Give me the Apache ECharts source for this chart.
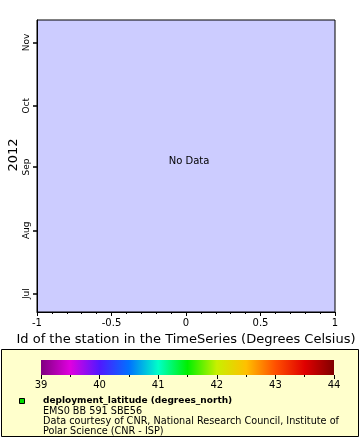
<!DOCTYPE html>
<html><head><meta charset="utf-8">
<script src="https://cdn.jsdelivr.net/npm/echarts@6/dist/echarts.min.js"></script>
<style>html,body{margin:0;padding:0;background:#fff}#c{width:360px;height:440px}</style>
</head><body><div id="c"></div>
<script>
// ---- data ----
const xRange = [-1, 1];
const xTickInterval = 0.5;
const timeRange = ['2012-06-22', '2012-11-12'];
const monthTicks = ['2012-07-01', '2012-08-01', '2012-09-01', '2012-10-01', '2012-11-01'];
const monthLabels = ['Jul', 'Aug', 'Sep', 'Oct', 'Nov'];
const yearLabel = '2012';
const xAxisTitle = 'Id of the station in the TimeSeries (Degrees Celsius)';
const seriesData = []; // no data
const noDataText = 'No Data';
const colorbarRange = [39, 44];
const colorbarStops = ['#800080', '#e000e0', '#5018ff', '#0070ff', '#00ffc8', '#00f000', '#c8f000', '#ffc000', '#ff5000', '#e00000', '#800000'];
const legendTitle = 'deployment_latitude (degrees_north)';
const legendLines = ['EMS0 BB 591 SBE56', 'Data courtesy of CNR, National Research Council, Institute of', 'Polar Science (CNR - ISP)'];

const font = 'DejaVu Sans';
const chart = echarts.init(document.getElementById('c'), null, {renderer: 'canvas'});
const toTs = s => { const p = s.split('-').map(Number); return Date.UTC(p[0], p[1] - 1, p[2]); };
const tickTs = monthTicks.map(toTs);

const gradient = new echarts.graphic.LinearGradient(0, 0, 1, 0,
  colorbarStops.map((c, i) => ({offset: i / (colorbarStops.length - 1), color: c})));

chart.setOption({
  animation: false,
  textStyle: {fontFamily: font},
  grid: [
    {left: 37, right: 25, top: 20, bottom: 128, show: true, backgroundColor: '#ccccff', borderColor: '#000', borderWidth: 1},
    {left: 41, width: 293, top: 360, height: 15, show: true, backgroundColor: gradient, borderWidth: 0}
  ],
  xAxis: [
    {type: 'value', gridIndex: 0, min: xRange[0], max: xRange[1], interval: xTickInterval,
     axisLine: {onZero: false, lineStyle: {color: '#000'}}, splitLine: {show: false},
     axisTick: {show: true, length: 4, lineStyle: {color: '#000'}},
     minorTick: {show: true, splitNumber: 5, length: 2, lineStyle: {color: '#000'}},
     axisLabel: {color: '#000', fontSize: 10, margin: 6, fontFamily: font},
     name: xAxisTitle, nameLocation: 'middle', nameGap: 19,
     nameTextStyle: {color: '#000', fontSize: 13, fontFamily: font, verticalAlign: 'top'}},
    {type: 'value', gridIndex: 1, min: colorbarRange[0], max: colorbarRange[1], interval: 1,
     axisLine: {show: false, onZero: false}, splitLine: {show: false},
     axisTick: {show: true, length: 4, lineStyle: {color: '#000'}},
     minorTick: {show: true, splitNumber: 2, length: 2, lineStyle: {color: '#000'}},
     axisLabel: {color: '#000', fontSize: 10, margin: 5, fontFamily: font}}
  ],
  yAxis: [
    {type: 'value', gridIndex: 0, min: toTs(timeRange[0]), max: toTs(timeRange[1]),
     axisLine: {show: true, onZero: false, lineStyle: {color: '#000'}}, splitLine: {show: false},
     axisTick: {show: true, length: 4, customValues: tickTs, lineStyle: {color: '#000', width: 1.5}},
     axisLabel: {color: '#000', fontSize: 9, rotate: 90, margin: 6, customValues: tickTs,
       formatter: v => { const i = tickTs.indexOf(v); return i >= 0 ? monthLabels[i] : ''; }, fontFamily: font}},
    {type: 'value', gridIndex: 1, show: false, min: 0, max: 1}
  ],
  series: [
    {type: 'scatter', xAxisIndex: 0, yAxisIndex: 0, data: seriesData, symbolSize: 5, itemStyle: {color: '#00dd00'}}
  ],
  graphic: [
    {type: 'text', x: 189, y: 161, style: {text: noDataText, font: '10px "DejaVu Sans"', fill: '#000', align: 'center', verticalAlign: 'middle'}},
    {type: 'text', x: 14, y: 155, rotation: Math.PI / 2, style: {text: yearLabel, font: '13px "DejaVu Sans"', fill: '#000', align: 'center', verticalAlign: 'middle'}},
    {type: 'rect', z: -1, shape: {x: 1.5, y: 349.5, width: 357, height: 87}, style: {fill: '#ffffcc', stroke: '#000', lineWidth: 1}},
    {type: 'rect', shape: {x: 19.5, y: 398.5, width: 5, height: 5}, style: {fill: '#00dd00', stroke: '#000', lineWidth: 1}},
    {type: 'text', x: 43, y: 401, style: {text: legendTitle, font: 'bold 9px "DejaVu Sans"', fill: '#000', verticalAlign: 'middle'}},
    {type: 'text', x: 43, y: 411, style: {text: legendLines[0], font: '9.7px "DejaVu Sans"', fill: '#000', verticalAlign: 'middle'}},
    {type: 'text', x: 43, y: 421, style: {text: legendLines[1], font: '9.7px "DejaVu Sans"', fill: '#000', verticalAlign: 'middle'}},
    {type: 'text', x: 43, y: 431, style: {text: legendLines[2], font: '9.7px "DejaVu Sans"', fill: '#000', verticalAlign: 'middle'}}
  ]
});
</script></body></html>
